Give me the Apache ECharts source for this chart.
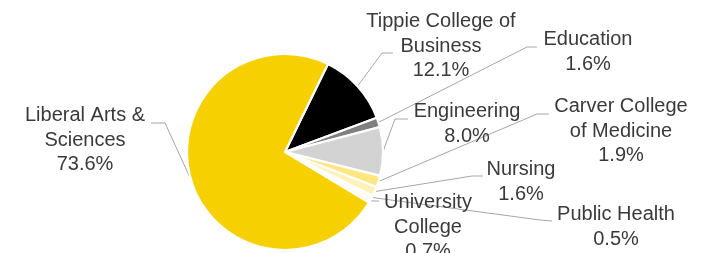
<!DOCTYPE html>
<html>
<head>
<meta charset="utf-8">
<script src="https://cdn.jsdelivr.net/npm/echarts@6/dist/echarts.min.js"></script>
<style>
    html, body { margin: 0; padding: 0; background: #fff; }
    #collegeChart { width: 711px; height: 253px; }
</style>
</head>
<body>
<div id="collegeChart"></div>
<script>
// share of students by college (percent), clockwise from Tippie
var colleges = ['Tippie College of\nBusiness', 'Education', 'Engineering', 'Carver College\nof Medicine',
    'Nursing', 'Public Health', 'University\nCollege', 'Liberal Arts &\nSciences'];
var shares = [12.1, 1.6, 8.0, 1.9, 1.6, 0.5, 0.7, 73.6];
var colors = ['#000000', '#808080', '#D3D3D3', '#FFE680', '#FFF1B8', '#FFF6D6', '#FDFAF0', '#F6D000'];

// label box centre, leader elbow, leader end
var labelPos = [
    [441, 46, 382, 53, 393, 53],
    [588, 52, 527, 47, 537, 47],
    [467, 124, 395, 119, 408, 119],
    [621, 131, 537, 114, 549, 114],
    [521, 182, 472, 176, 483, 176],
    [616, 227, 540, 220, 552, 221],
    [428, 227, 375, 201, 379, 201],
    [85, 140, 165, 123, 151, 123]
];

document.addEventListener('DOMContentLoaded', function () {
    LoadCollegeChart();
});

function LoadCollegeChart() {
    var pieData = colleges.map(function (name, i) {
        return { name: name, value: shares[i], itemStyle: { color: colors[i] } };
    });

    var myChart = echarts.init(document.getElementById('collegeChart'));
    var option = {
        animation: false,
        series: [{
            type: 'pie',
            center: [285, 152],
            radius: 98,
            startAngle: 64,
            clockwise: true,
            avoidLabelOverlap: false,
            data: pieData,
            itemStyle: { borderColor: '#fff', borderWidth: 2.2 },
            label: {
                show: true,
                position: 'outside',
                color: '#3A3A3A',
                fontSize: 20,
                lineHeight: 24.5,
                fontFamily: 'Liberation Sans',
                align: 'center',
                formatter: function (p) {
                    return p.name + '\n' + p.value.toFixed(1) + '%';
                }
            },
            labelLine: {
                show: true,
                lineStyle: { color: '#A6A6A6', width: 1 }
            },
            labelLayout: function (params) {
                var lp = labelPos[params.dataIndex];
                var start = params.labelLinePoints ? params.labelLinePoints[0] : [lp[2], lp[3]];
                return {
                    x: lp[0],
                    y: lp[1],
                    align: 'center',
                    verticalAlign: 'middle',
                    labelLinePoints: [start, [lp[2], lp[3]], [lp[4], lp[5]]]
                };
            }
        }]
    };
    myChart.setOption(option);
}
</script>
</body>
</html>
